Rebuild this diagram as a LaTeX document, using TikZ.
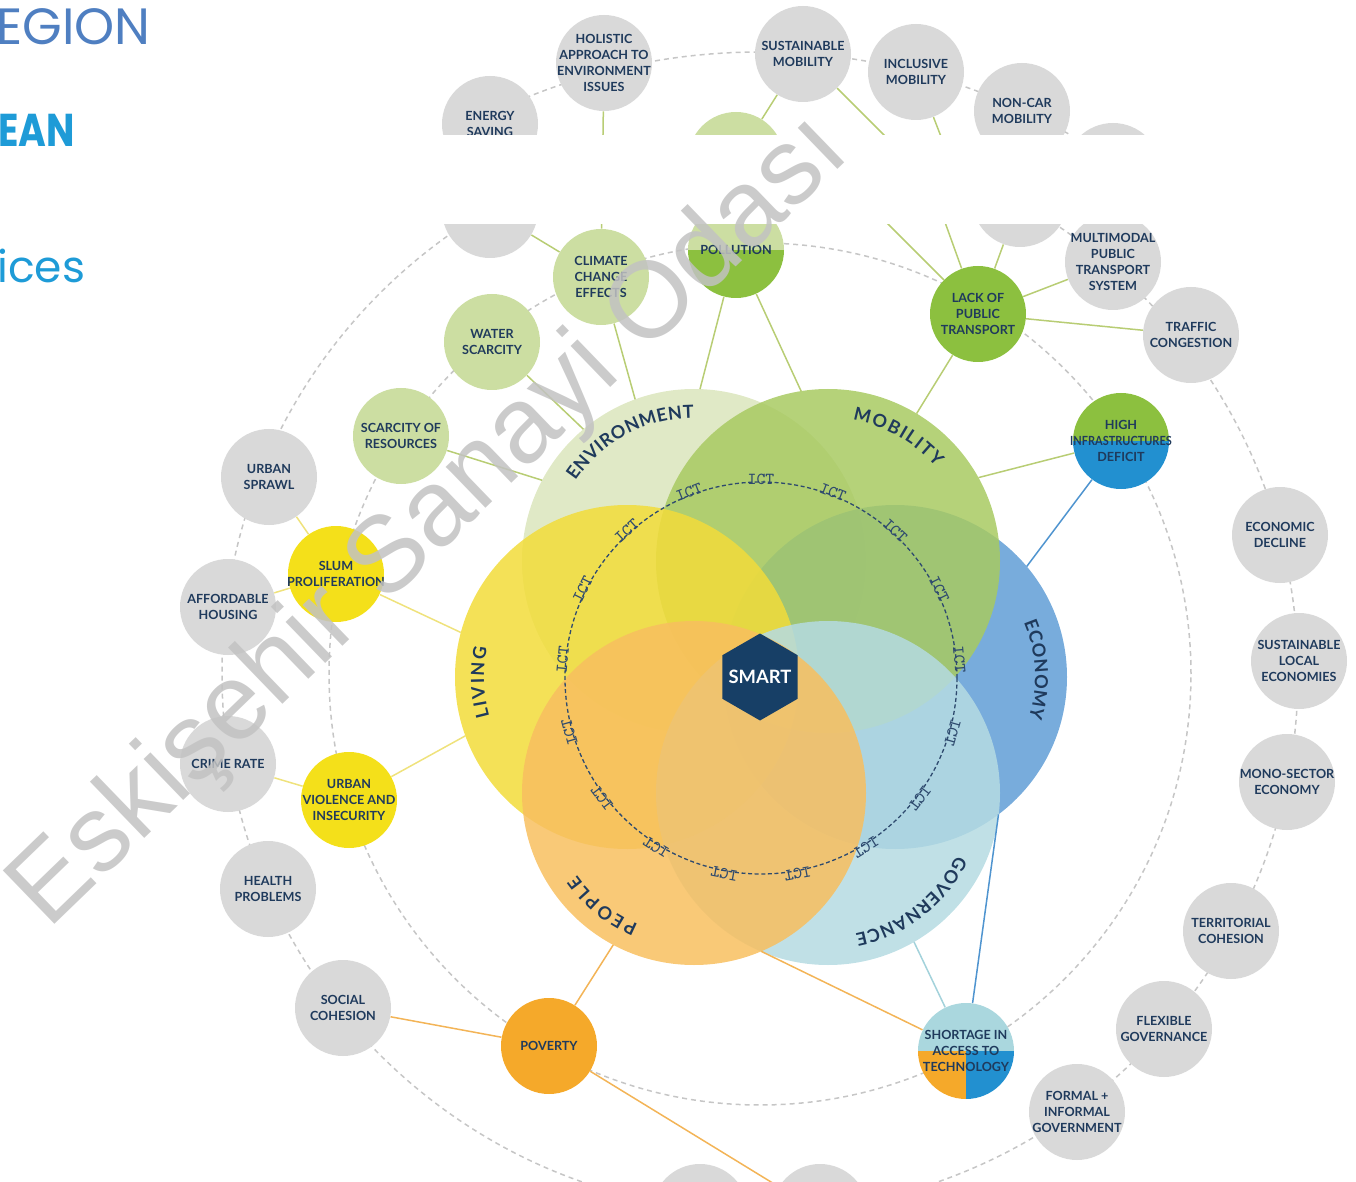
\documentclass[tikz,border=0pt]{standalone}
\usepackage{fontspec}
\usepackage{graphicx}
\setmainfont{Lato}
\newfontfamily\popfont{Poppins}
\newfontfamily\wmfamily{Liberation Sans}
\usetikzlibrary{calc,decorations.text,shapes.geometric}

\definecolor{navy}{HTML}{1F3A5C}
\definecolor{ictnavy}{HTML}{2E4A6E}
\definecolor{nodegray}{HTML}{D9D9D9}
\definecolor{ringgray}{HTML}{C6C6C6}
\definecolor{lightgreen}{HTML}{CCDEA2}
\definecolor{greenN}{HTML}{8CC03F}
\definecolor{yellowN}{HTML}{F4E01A}
\definecolor{orangeN}{HTML}{F5A92A}
\definecolor{blueN}{HTML}{2290D0}
\definecolor{tealN}{HTML}{AAD7DE}
\definecolor{envcol}{HTML}{DBE5BC}
\definecolor{mobcol}{HTML}{A8CA62}
\definecolor{ecocol}{HTML}{609DD6}
\definecolor{livcol}{HTML}{F2DC3A}
\definecolor{govcol}{HTML}{B5DBE2}
\definecolor{peocol}{HTML}{F8BF5F}
\definecolor{smartblue}{HTML}{173F66}
\definecolor{lgl}{HTML}{B8CD74}
\definecolor{yll}{HTML}{EFE27C}
\definecolor{orl}{HTML}{F3B457}
\definecolor{bll}{HTML}{4F94CF}
\definecolor{tll}{HTML}{A3D2DB}
\definecolor{wmgray}{HTML}{C2C2C2}
\definecolor{regblue}{HTML}{4F7FC1}
\definecolor{eanblue}{HTML}{1E9BD7}

\newcommand\lblfont{\bfseries\fontsize{6.3}{8}\selectfont}
\newcommand\domfont{\bfseries\fontsize{9}{10}\selectfont}
\newcommand\ictfont{\ttfamily\fontsize{8.4}{9}\selectfont}
\newcommand\smartfont{\bfseries\fontsize{9.2}{10}\selectfont}
\newcommand\wmf{\wmfamily\fontsize{54}{60}\selectfont}

\begin{document}
\begin{tikzpicture}[x=0.5pt,y=0.5pt,
  dring/.style={draw=ringgray, line width=0.75pt, dash pattern=on 2.5pt off 2pt},
  ictring/.style={draw=ictnavy, line width=0.65pt, dash pattern=on 2pt off 1.3pt},
  lbl/.style={font=\lblfont, text=navy, align=center, inner sep=0pt},
  bub/.style={circle, minimum size=48pt, inner sep=0pt},
  gnode/.style={bub, fill=nodegray},
  lgnode/.style={bub, fill=lightgreen},
  grnode/.style={bub, fill=greenN},
  ynode/.style={bub, fill=yellowN},
  onode/.style={bub, fill=orangeN},
  conn/.style={line width=0.75pt},
  lgline/.style={conn, draw=lgl},
  ylline/.style={conn, draw=yll},
  orline/.style={conn, draw=orl},
  blline/.style={conn, draw=bll},
  tlline/.style={conn, draw=tll},
  dom/.style={fill opacity=0.85},
  ictlbl/.style={font=\ictfont, text=ictnavy, inner sep=0pt}
]
\useasboundingbox (0,0) rectangle (1356,-1182);

% ---------- rings ----------
\coordinate (rc) at (760,-674);
\draw[dring] (rc) circle[radius=431];
\draw[dring] (rc) circle[radius=538];
\draw[dring] ($(rc)+(52:622)$) arc[start angle=52, end angle=118, radius=622];

% ---------- domain circles ----------
\coordinate (envc) at (694,-561);
\coordinate (mobc) at (828,-561);
\coordinate (livc) at (627,-677);
\coordinate (ecoc) at (895,-677);
\coordinate (peoc) at (694,-793);
\coordinate (govc) at (828,-793);
\coordinate (ictc) at (761,-678);

\fill[envcol, dom] (envc) circle[radius=172];
\fill[ecocol, dom] (ecoc) circle[radius=172];
\fill[mobcol, dom] (mobc) circle[radius=172];
\fill[livcol, dom] (livc) circle[radius=172];
\fill[govcol, dom] (govc) circle[radius=172];
\fill[peocol, dom] (peoc) circle[radius=172];

% curved domain labels
\path[decorate, decoration={text along path, text={|\domfont|ENVIRONMENT}, text align={fit to path}, text color=navy}]
  ($(envc)+(146:143)$) arc[start angle=146, end angle=90, radius=143];
\path[decorate, decoration={text along path, text={|\domfont|MOBILITY}, text align={fit to path}, text color=navy}]
  ($(mobc)+(80:143)$) arc[start angle=80, end angle=41, radius=143];
\path[decorate, decoration={text along path, text={|\domfont|LIVING}, text align={fit to path}, text color=navy}]
  ($(livc)+(196:143)$) arc[start angle=196, end angle=168, radius=143];
\path[decorate, decoration={text along path, text={|\domfont|ECONOMY}, text align={fit to path}, text color=navy}]
  ($(ecoc)+(23:140)$) arc[start angle=23, end angle=-17, radius=140];
\path[decorate, decoration={text along path, text={|\domfont|PEOPLE}, text align={fit to path}, text color=navy}]
  ($(peoc)+(247:143)$) arc[start angle=247, end angle=215, radius=143];
\path[decorate, decoration={text along path, text={|\domfont|GOVERNANCE}, text align={fit to path}, text color=navy}]
  ($(govc)+(-26:143)$) arc[start angle=-26, end angle=-79, radius=143];

% ICT ring
\draw[ictring] (ictc) circle[radius=196];
\foreach \k in {0,...,16}{
  \pgfmathsetmacro\ang{90-\k*360/17}
  \pgfmathsetmacro\rot{\ang-90}
  \node[ictlbl, rotate=\rot, anchor=base] (ict\k) at ($(ictc)+(\ang:194)$) {ICT};
}

% SMART
\node[regular polygon, regular polygon sides=6, shape border rotate=30, fill=smartblue,
      minimum size=43.5pt, inner sep=0pt,
      label={[font=\smartfont, text=white, inner sep=0pt]center:SMART}] (smart) at (760,-677) {};

% ---------- bubbles ----------
% gray
\node[gnode, label={[lbl]center:ENERGY\\SAVING}] (energy) at (490,-124) {};
\node[gnode, label={[lbl]center:HOLISTIC\\APPROACH TO\\ENVIRONMENT\\ISSUES}] (holistic) at (604,-63) {};
\node[gnode, label={[lbl]center:SUSTAINABLE\\MOBILITY}] (summob) at (803,-54) {};
\node[gnode, label={[lbl]center:INCLUSIVE\\MOBILITY}] (incmob) at (916,-72) {};
\node[gnode, label={[lbl]center:NON-CAR\\MOBILITY}] (noncar) at (1022,-111) {};
\node[gnode] (gtopr) at (1113,-171) {};
\node[gnode] (gmidr) at (1020,-199) {};
\node[gnode] (gmidl) at (490,-210) {};
\node[gnode, label={[lbl]center:MULTIMODAL\\PUBLIC\\TRANSPORT\\SYSTEM}] (multimodal) at (1113,-262) {};
\node[gnode, label={[lbl]center:TRAFFIC\\CONGESTION}] (traffic) at (1191,-335) {};
\node[gnode, label={[lbl]center:URBAN\\SPRAWL}] (sprawl) at (269,-477) {};
\node[gnode, label={[lbl]center:AFFORDABLE\\HOUSING}] (afford) at (228,-607) {};
\node[gnode, label={[lbl]center:CRIME RATE}] (crime) at (228,-764) {};
\node[gnode, label={[lbl]center:HEALTH\\PROBLEMS}] (health) at (268,-889) {};
\node[gnode, label={[lbl]center:SOCIAL\\COHESION}] (social) at (343,-1008) {};
\node[gnode, label={[lbl]center:ECONOMIC\\DECLINE}] (econdecl) at (1280,-535) {};
\node[gnode, label={[lbl]center:SUSTAINABLE\\LOCAL\\ECONOMIES}] (localeco) at (1299,-661) {};
\node[gnode, label={[lbl]center:MONO-SECTOR\\ECONOMY}] (mono) at (1287,-782) {};
\node[gnode, label={[lbl]center:TERRITORIAL\\COHESION}] (territ) at (1231,-931) {};
\node[gnode, label={[lbl]center:FLEXIBLE\\GOVERNANCE}] (flexgov) at (1164,-1029) {};
\node[gnode, label={[lbl]center:FORMAL +\\INFORMAL\\GOVERNMENT}] (formal) at (1077,-1112) {};
\node[gnode] (gbotl) at (700,-1212) {};
\node[gnode] (gbotr) at (820,-1212) {};
% light green
\node[lgnode] (gpartial) at (736,-160) {};
\node[lgnode, label={[lbl]center:CLIMATE\\CHANGE\\EFFECTS}] (climate) at (601,-277) {};
\node[lgnode, label={[lbl]center:WATER\\SCARCITY}] (water) at (492,-342) {};
\node[lgnode, label={[lbl]center:SCARCITY OF\\RESOURCES}] (scarcity) at (401,-436) {};
% green / yellow / orange
\node[grnode, label={[lbl]center:LACK OF\\PUBLIC\\TRANSPORT}] (lack) at (978,-314) {};
\node[ynode, label={[lbl]center:SLUM\\PROLIFERATION}] (slum) at (336,-574) {};
\node[ynode, label={[lbl]center:URBAN\\VIOLENCE AND\\INSECURITY}] (violence) at (349,-800) {};
\node[onode, label={[lbl]center:POVERTY}] (poverty) at (549,-1046) {};
% split bubbles
\coordinate (pc) at (736,-250);
\begin{scope}
  \clip (pc) circle[radius=48];
  \fill[lightgreen] ($(pc)+(-50,50)$) rectangle ($(pc)+(50,0)$);
  \fill[greenN] ($(pc)+(-50,0)$) rectangle ($(pc)+(50,-50)$);
\end{scope}
\node[bub, label={[lbl]center:POLLUTION}] (pollution) at (pc) {};
\coordinate (hc) at (1121,-441);
\begin{scope}
  \clip (hc) circle[radius=48];
  \fill[greenN] ($(hc)+(-50,50)$) rectangle ($(hc)+(50,0)$);
  \fill[blueN] ($(hc)+(-50,0)$) rectangle ($(hc)+(50,-50)$);
\end{scope}
\node[bub, label={[lbl]center:HIGH\\\scalebox{0.87}[1]{INFRASTRUCTURES}\\DEFICIT}] (high) at (hc) {};
\coordinate (sc) at (966,-1051);
\begin{scope}
  \clip (sc) circle[radius=48];
  \fill[tealN] ($(sc)+(-50,50)$) rectangle ($(sc)+(50,0)$);
  \fill[orangeN] ($(sc)+(-50,0)$) rectangle ($(sc)+(0,-50)$);
  \fill[blueN] ($(sc)+(0,0)$) rectangle ($(sc)+(50,-50)$);
\end{scope}
\node[bub, label={[lbl]center:SHORTAGE IN\\ACCESS TO\\TECHNOLOGY}] (shortage) at (sc) {};

% ---------- connectors ----------
\coordinate (envA) at ($(envc)+(88:172)$);
\coordinate (mobB) at ($(mobc)+(99:172)$);
\coordinate (envB) at ($(envc)+(110:172)$);
\coordinate (envC) at ($(envc)+(130:172)$);
\coordinate (envD) at ($(envc)+(152:172)$);
\coordinate (mobA) at ($(mobc)+(59:172)$);
\coordinate (mobC) at ($(mobc)+(29:172)$);
\coordinate (ecoA) at ($(ecoc)+(40:172)$);
\coordinate (ecoB) at ($(ecoc)+(-53:172)$);
\coordinate (govA) at ($(govc)+(-60:172)$);
\coordinate (peoA) at ($(peoc)+(-67:172)$);
\coordinate (peoB) at ($(peoc)+(-118:172)$);
\coordinate (livA) at ($(livc)+(165:172)$);
\coordinate (livB) at ($(livc)+(200:172)$);
\coordinate (smfree) at (905,-156);
\coordinate (incfree) at (952,-165);
\coordinate (lkfreeA) at (868,-204);
\coordinate (lkfreeB) at (937,-200);

\draw[lgline] (holistic) -- (climate);
\draw[lgline] (gmidl) -- (climate);
\draw[lgline] (summob) -- (gpartial);
\draw[lgline] (summob) -- (smfree);
\draw[lgline] (incmob) -- (incfree);
\draw[lgline] (lack) -- (lkfreeA);
\draw[lgline] (lack) -- (lkfreeB);
\draw[lgline] (gmidr) -- (lack);
\draw[lgline] (lack) -- (multimodal);
\draw[lgline] (lack) -- (traffic);
\draw[lgline] (lack) -- (mobA);
\draw[lgline] (pollution) -- (envA);
\draw[lgline] (pollution) -- (mobB);
\draw[lgline] (climate) -- (envB);
\draw[lgline] (water) -- (envC);
\draw[lgline] (scarcity) -- (envD);
\draw[lgline] (high) -- (mobC);
\draw[blline] (high) -- (ecoA);
\draw[blline] (shortage) -- (ecoB);
\draw[tlline] (shortage) -- (govA);
\draw[orline] (shortage) -- (peoA);
\draw[orline] (poverty) -- (peoB);
\draw[orline] (poverty) -- (social);
\draw[orline] (poverty) -- (gbotr);
\draw[ylline] (slum) -- (sprawl);
\draw[ylline] (slum) -- (afford);
\draw[ylline] (slum) -- (livA);
\draw[ylline] (violence) -- (crime);
\draw[ylline] (violence) -- (livB);

% ---------- white band ----------
\fill[white] (425,-135) rectangle (1172,-224);

% ---------- top-left heading fragments ----------
\node[anchor=base west, inner sep=0pt, font=\popfont\fontsize{25.5}{26}\selectfont, text=regblue] (hdA) at (-4,-45) {EGION};
\node[anchor=base west, inner sep=0pt, text=eanblue] (hdB) at (-2,-147) {\scalebox{0.82}[1]{\popfont\bfseries\fontsize{23}{23}\selectfont EAN}};
\node[anchor=base west, inner sep=0pt, font=\popfont\fontsize{22}{22}\selectfont, text=eanblue] (hdC) at (-3,-283) {ices};

% ---------- watermark ----------
\node[font=\wmf, text=wmgray, text opacity=0.85, rotate=44, inner sep=0pt] (wm) at (431,-523) {Eskişehir Sanayi Odası};
\end{tikzpicture}
\end{document}
